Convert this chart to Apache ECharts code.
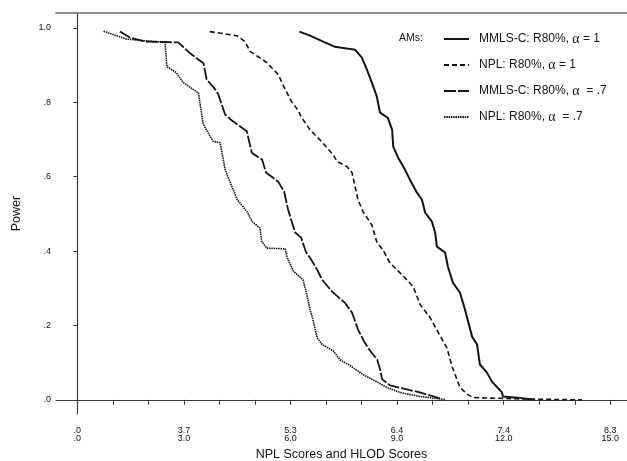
<!DOCTYPE html>
<html>
<head>
<meta charset="utf-8">
<script src="https://cdn.jsdelivr.net/npm/echarts@6/dist/echarts.min.js"></script>
<style>
  html, body { margin: 0; padding: 0; background: #fff; }
  #chart { width: 627px; height: 461px; }
</style>
</head>
<body>
<div id="chart"></div>
<script>
// Power curves: x in HLOD score units, y = power
const mmlsAlpha1 = [
  [6.25,0.990],[6.55,0.979],[6.92,0.963],[7.25,0.949],[7.82,0.941],[8.01,0.920],
  [8.15,0.888],[8.29,0.853],[8.43,0.815],[8.52,0.772],[8.74,0.758],[8.86,0.726],
  [8.89,0.681],[9.03,0.651],[9.22,0.619],[9.36,0.592],[9.56,0.557],[9.70,0.538],
  [9.79,0.503],[9.98,0.479],[10.07,0.450],[10.12,0.412],[10.35,0.396],[10.43,0.358],
  [10.57,0.315],[10.77,0.288],[10.91,0.243],[11.11,0.170],[11.25,0.149],[11.33,0.095],
  [11.53,0.073],[11.67,0.049],[11.95,0.020],[11.98,0.009],[12.38,0.006],[12.88,0.000]
];
const nplAlpha1 = [
  [3.73,0.990],[4.49,0.979],[4.72,0.963],[4.86,0.937],[5.08,0.923],[5.33,0.907],
  [5.66,0.874],[5.80,0.844],[6.03,0.802],[6.20,0.780],[6.32,0.758],[6.55,0.726],
  [6.83,0.699],[7.20,0.659],[7.31,0.641],[7.59,0.627],[7.73,0.611],[7.90,0.538],
  [8.04,0.506],[8.29,0.470],[8.43,0.424],[8.60,0.403],[8.80,0.368],[9.14,0.336],
  [9.45,0.305],[9.65,0.256],[9.93,0.221],[10.14,0.184],[10.40,0.140],[10.55,0.089],
  [10.77,0.033],[10.99,0.014],[11.14,0.006],[12.74,0.002],[14.20,0.000]
];
const mmlsAlpha07 = [
  [1.20,0.990],[1.48,0.974],[1.91,0.963],[2.84,0.961],[3.17,0.932],[3.55,0.905],
  [3.64,0.861],[3.83,0.841],[3.96,0.823],[4.16,0.767],[4.35,0.751],[4.77,0.722],
  [4.91,0.664],[5.20,0.646],[5.31,0.611],[5.65,0.587],[5.82,0.560],[5.93,0.512],
  [6.13,0.450],[6.30,0.436],[6.44,0.396],[6.55,0.382],[6.75,0.350],[6.89,0.323],
  [7.17,0.291],[7.53,0.261],[7.73,0.235],[7.90,0.189],[8.07,0.157],[8.24,0.132],
  [8.44,0.108],[8.52,0.082],[8.58,0.055],[8.80,0.039],[9.28,0.028],[9.64,0.020],
  [9.93,0.012],[10.21,0.004]
];
const nplAlpha07 = [
  [0.74,0.991],[1.37,0.970],[2.47,0.961],[2.52,0.896],[2.78,0.880],[2.98,0.853],
  [3.41,0.825],[3.54,0.742],[3.82,0.695],[4.02,0.691],[4.16,0.619],[4.50,0.538],
  [4.78,0.506],[4.92,0.479],[5.14,0.462],[5.19,0.426],[5.33,0.408],[5.85,0.406],
  [5.91,0.382],[6.08,0.346],[6.35,0.323],[6.44,0.291],[6.55,0.243],[6.63,0.216],
  [6.75,0.167],[6.89,0.149],[7.20,0.132],[7.39,0.108],[7.68,0.092],[8.04,0.068],
  [8.46,0.047],[8.72,0.033],[9.08,0.020],[9.65,0.009],[10.35,0.001]
];

// Paired axis scales: HLOD tick positions with their NPL equivalents
const hlodTicks = [0, 3, 6, 9, 12, 15];
const hlodLabels = ['.0', '3.0', '6.0', '9.0', '12.0', '15.0'];
const nplLabels = ['.0', '3.7', '5.3', '6.4', '7.4', '8.3'];
const minorTicks = [0,1,2,3,4,5,6,7,8,9,10,11,12,13,14,15];
const powerTicks = [0, 0.2, 0.4, 0.6, 0.8, 1.0];
const powerLabels = ['.0', '.2', '.4', '.6', '.8', '1.0'];

const seriesNames = [
  'MMLS-C: R80%, α = 1',
  'NPL: R80%, α = 1',
  'MMLS-C: R80%, α  = .7',
  'NPL: R80%, α  = .7'
];

const FONT = '"Liberation Sans", Arial, sans-serif';
const INK = '#141414';
const AXIS = '#3a3a3a';
const X_MIN = -0.6, X_MAX = 15.47;

const chart = echarts.init(document.getElementById('chart'), null, { renderer: 'canvas' });

function lineSeries(name, data, width, type) {
  return {
    name: name,
    type: 'line',
    data: data,
    symbol: 'none',
    smooth: false,
    animation: false,
    lineStyle: { color: INK, width: width, type: type, cap: 'butt' },
    itemStyle: { color: INK }
  };
}

chart.setOption({
  backgroundColor: '#ffffff',
  animation: false,
  grid: { left: 56, right: 0, top: 13, bottom: 47, containLabel: false, outerBoundsMode: 'none' },
  graphic: [{
    type: 'text',
    left: 399,
    top: 33,
    style: { text: 'AMs:', font: '10.5px ' + FONT, fill: INK }
  }],
  legend: {
    orient: 'vertical',
    left: 443,
    top: 32,
    padding: 0,
    itemWidth: 25,
    itemHeight: 14,
    itemGap: 12,
    selectedMode: false,
    data: seriesNames,
    itemStyle: { opacity: 0, borderWidth: 0 },
    textStyle: {
      fontFamily: FONT,
      fontSize: 12,
      color: INK,
      padding: [0, 0, 0, 5],
      rich: {
        a: { fontFamily: '"Liberation Serif", serif', fontSize: 14, color: INK }
      }
    },
    formatter: function (name) {
      return name.replace('α', '{a|α}');
    }
  },
  xAxis: [{
    type: 'value',
    position: 'bottom',
    min: X_MIN,
    max: X_MAX,
    splitLine: { show: false },
    axisLine: { show: true, lineStyle: { color: AXIS, width: 1.2 } },
    axisTick: { show: true, length: 5, customValues: minorTicks, lineStyle: { color: AXIS, width: 1 } },
    axisLabel: {
      show: true,
      customValues: hlodTicks,
      margin: 13,
      fontFamily: FONT,
      fontSize: 9,
      lineHeight: 8,
      color: INK,
      align: 'center',
      formatter: function (v) {
        const i = hlodTicks.indexOf(Math.round(v));
        return i < 0 ? '' : nplLabels[i] + '\n' + hlodLabels[i];
      }
    },
    name: 'NPL Scores and HLOD Scores',
    nameLocation: 'middle',
    nameGap: 32,
    nameTextStyle: { fontFamily: FONT, fontSize: 12.5, color: INK }
  }, {
    type: 'value',
    position: 'top',
    min: X_MIN,
    max: X_MAX,
    splitLine: { show: false },
    axisLine: { show: true, lineStyle: { color: '#6a6a6a', width: 1.5 } },
    axisTick: { show: false },
    axisLabel: { show: false }
  }],
  yAxis: {
    type: 'value',
    min: -0.038,
    max: 1.04,
    splitLine: { show: false },
    axisLine: { show: true, lineStyle: { color: AXIS, width: 1.2 } },
    axisTick: { show: true, length: 4, customValues: powerTicks, lineStyle: { color: AXIS, width: 1 } },
    axisLabel: {
      show: true,
      customValues: powerTicks,
      margin: 5,
      fontFamily: FONT,
      fontSize: 9,
      color: INK,
      formatter: function (v) {
        const i = powerTicks.findIndex(function (t) { return Math.abs(t - v) < 1e-6; });
        return i < 0 ? '' : powerLabels[i];
      }
    },
    name: 'Power',
    nameLocation: 'middle',
    nameGap: 33,
    nameTextStyle: { fontFamily: FONT, fontSize: 12.5, color: INK }
  },
  series: [
    lineSeries(seriesNames[0], mmlsAlpha1, 2, 'solid'),
    lineSeries(seriesNames[1], nplAlpha1, 1.6, [5, 3]),
    lineSeries(seriesNames[2], mmlsAlpha07, 1.8, [12, 2]),
    lineSeries(seriesNames[3], nplAlpha07, 1.6, [1.5, 0.8])
  ]
});
</script>
</body>
</html>
